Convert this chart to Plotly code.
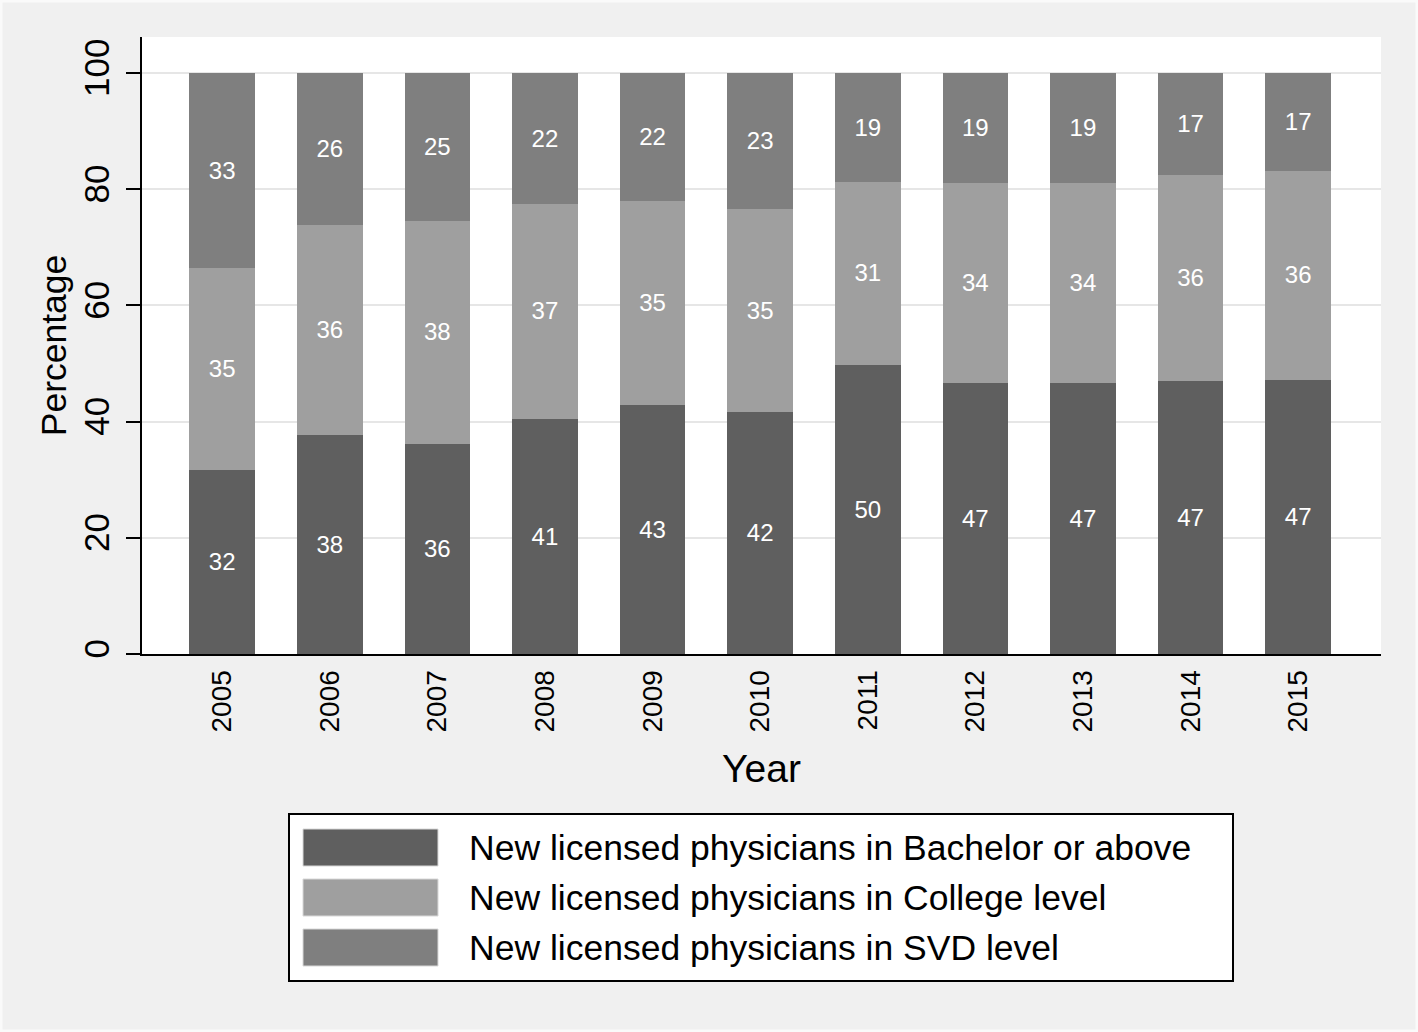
import plotly.graph_objects as go

# Data (percent of new licensed physicians)
years = ['2005', '2006', '2007', '2008', '2009', '2010', '2011', '2012', '2013', '2014', '2015']
bachelor = [31.8, 37.7, 36.3, 40.6, 43.0, 41.8, 49.9, 46.8, 46.8, 47.0, 47.3]
college = [34.8, 36.3, 38.3, 37.0, 35.0, 34.8, 31.4, 34.3, 34.4, 35.6, 36.0]
svd = [33.4, 26.0, 25.4, 22.4, 22.0, 23.4, 18.7, 18.9, 18.8, 17.4, 16.7]

series_names = ['New licensed physicians in Bachelor or above',
                'New licensed physicians in College level',
                'New licensed physicians in SVD level']
series_colors = ['#5f5f5f', '#9f9f9f', '#7f7f7f']

W, H = 1418, 1032
L, R, T, B = 142, 1381, 37, 654  # plot area in pixels


def px_x(x):
    return (x - L) / (R - L)


def px_y(y):
    return (B - y) / (B - T)


fig = go.Figure()
for vals, name, color in zip([bachelor, college, svd], series_names, series_colors):
    fig.add_trace(go.Bar(
        x=list(range(len(years))), y=vals, name=name, width=0.6,
        marker=dict(color=color, line=dict(color=color, width=1)),
        texttemplate='%{y:.0f}', textposition='inside', insidetextanchor='middle',
        textangle=0, textfont=dict(color='white', size=24),
        showlegend=False,
    ))

# thin light frame around the whole graph, as in the original export
shapes = [dict(type='rect', xref='paper', yref='paper',
               x0=px_x(1), x1=px_x(W - 1), y0=px_y(H - 1), y1=px_y(1),
               line=dict(color='#fafafa', width=3), layer='below')]

# hand-drawn legend box (large swatches like the original)
shapes.append(dict(type='rect', xref='paper', yref='paper',
                   x0=px_x(289), x1=px_x(1233), y0=px_y(981), y1=px_y(814),
                   line=dict(color='black', width=2), fillcolor='white', layer='below'))
annotations = []
for i, (name, color) in enumerate(zip(series_names, series_colors)):
    top = 829 + i * 50
    shapes.append(dict(type='rect', xref='paper', yref='paper',
                       x0=px_x(303), x1=px_x(438), y0=px_y(top + 37), y1=px_y(top),
                       line=dict(color='#d8d8d8', width=1), fillcolor=color))
    annotations.append(dict(xref='paper', yref='paper', x=px_x(467), y=px_y(top + 19),
                            text=name, showarrow=False, xanchor='left', yanchor='middle',
                            font=dict(size=35.5, color='black')))

fig.update_layout(
    width=W, height=H,
    margin=dict(l=L, r=W - R, t=T, b=H - B),
    paper_bgcolor='#f0f0f0', plot_bgcolor='white',
    barmode='stack',
    font=dict(family='Liberation Sans, Arial', color='black'),
    shapes=shapes, annotations=annotations,
)
fig.update_xaxes(
    tickvals=list(range(len(years))), ticktext=years,
    range=[-0.745, 10.77], tickangle=-90, tickfont=dict(size=28),
    showline=True, linecolor='black', linewidth=2, ticks='', showgrid=False,
    ticklabelstandoff=3,
    title=dict(text='Year', font=dict(size=39), standoff=23),
)
fig.update_yaxes(
    range=[0, 106.2], tickvals=[0, 20, 40, 60, 80, 100], tickangle=-90,
    tickfont=dict(size=35),
    showline=True, linecolor='black', linewidth=2, ticks='outside', ticklen=14,
    tickwidth=2, tickcolor='black',
    showgrid=True, gridcolor='#e6e6e6', gridwidth=2, zeroline=False,
    ticklabelstandoff=3,
    title=dict(text='Percentage', font=dict(size=35.5), standoff=0),
)

fig.write_html('out.html', config={'displayModeBar': False},
               post_script="document.body.style.margin='0';")
